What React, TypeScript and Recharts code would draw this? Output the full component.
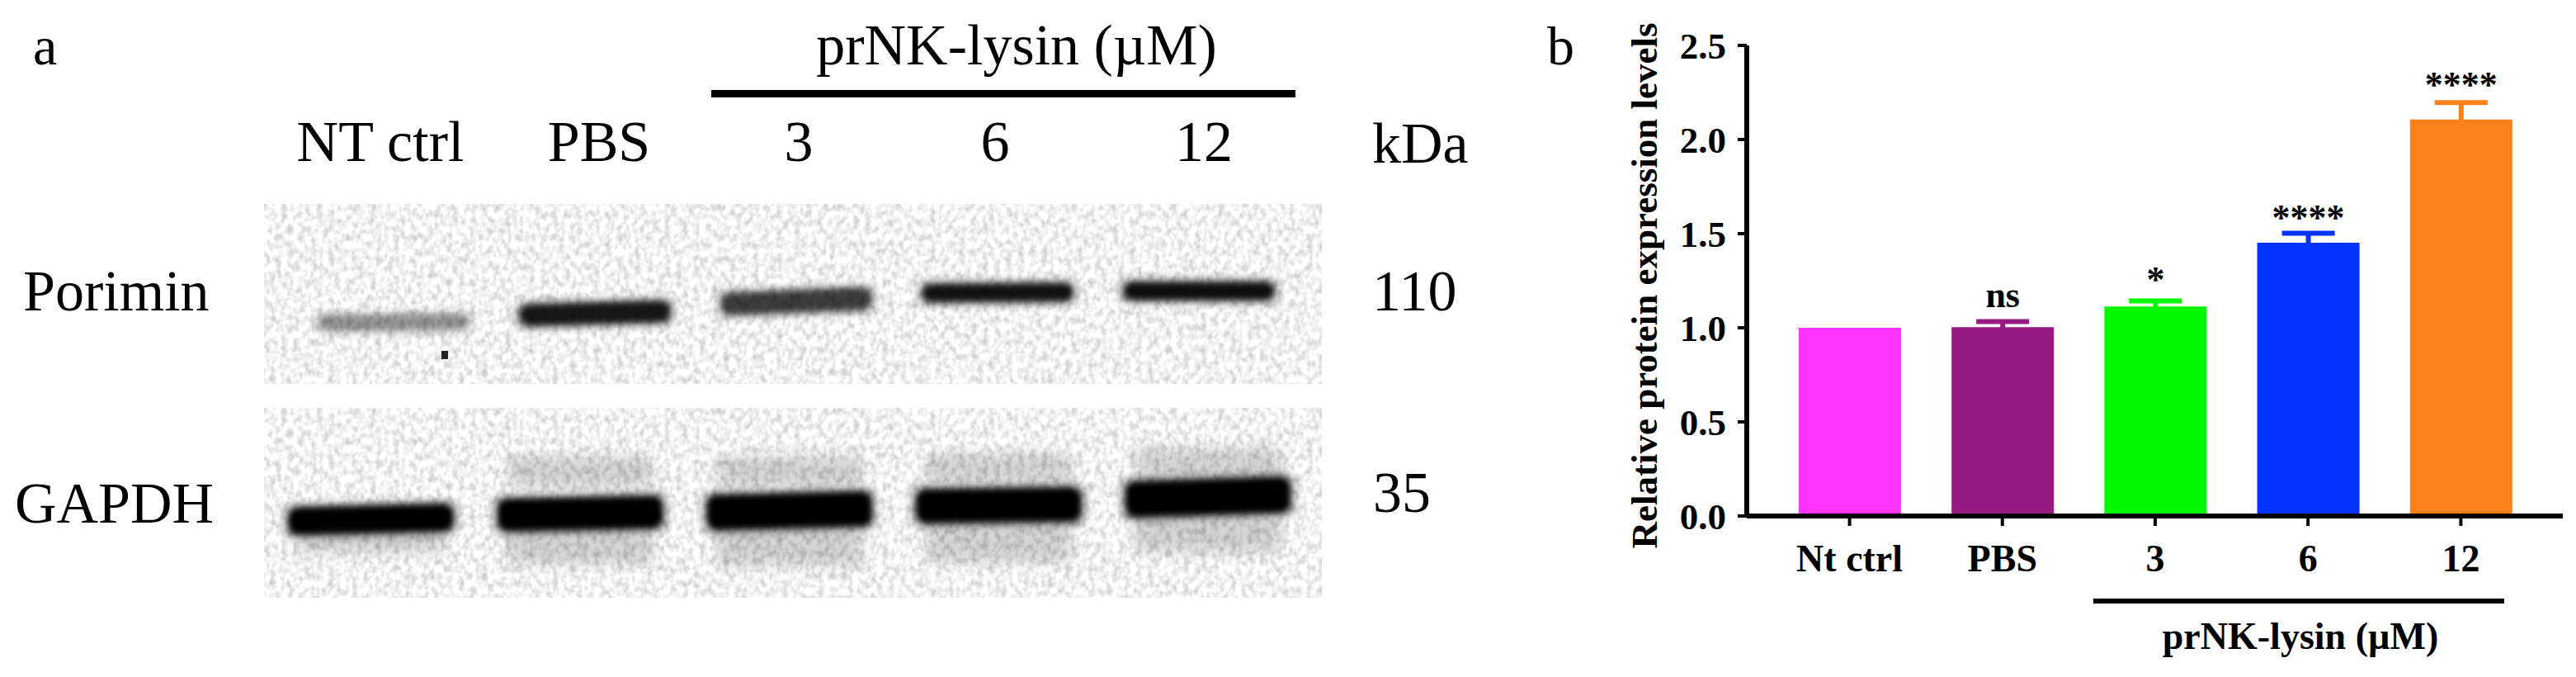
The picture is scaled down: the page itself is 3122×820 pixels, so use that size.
import React from "react";
import {
  Bar,
  BarChart,
  ErrorBar,
  LabelList,
  ReferenceArea,
  ReferenceDot,
  XAxis,
  YAxis,
} from "recharts";

// panel b
const groups = ["Nt ctrl", "PBS", "3", "6", "12"];
const means = [1.0, 1.003, 1.113, 1.452, 2.106];
const sems = [0, 0.03, 0.03, 0.05, 0.09];
const marks = ["", "ns", "*", "****", "****"];
const barColors = ["#ff33ff", "#951a81", "#00f900", "#0433ff", "#ff8119"];
const yTicks = [0, 0.5, 1, 1.5, 2, 2.5];

// panel a: band edges are rows down each blot, tilt in degrees, darkness 0-1
const lanes = ["NT ctrl", "PBS", "3", "6", "12"];
const poriminTop = [135, 121, 106, 98, 96];
const poriminBottom = [152, 144, 130, 117, 115];
const poriminDark = [0.32, 0.85, 0.66, 0.88, 0.9];
const poriminTilt = [-0.4, -1.6, -2.2, -0.4, 0];
const gapdhTop = [120, 110, 105, 99, 88];
const gapdhBottom = [150, 146, 144, 137, 128];
const gapdhTilt = [-1.4, -1.2, -1.4, -0.7, -1.8];
const smearHigh = [null, [58, 96], [58, 96], [55, 92], [48, 86]];
const smearLow = [[148, 176], [144, 190], [142, 192], [135, 188], [126, 176]];

const rows = groups.map((name, i) => ({
  name,
  [`v${i}`]: means[i],
  [`e${i}`]: sems[i] || undefined,
  [`s${i}`]: marks[i] || undefined,
}));

const poriminRows = lanes.map((name, i) => ({
  name,
  band: [poriminTop[i], poriminBottom[i]],
  dark: poriminDark[i],
  tilt: poriminTilt[i],
}));

const gapdhRows = lanes.map((name, i) => ({
  name,
  band: [gapdhTop[i], gapdhBottom[i]],
  high: smearHigh[i],
  low: smearLow[i],
  dark: 1,
  tilt: gapdhTilt[i],
}));

const SERIF = "'Liberation Serif', serif";
const BLOT_WIDTH = 1282;
const GAPDH_BAR = 205;
const markOffsets = [0, 24, 18, 16, 28];

function BlotBand(props: any) {
  const { x, width, payload } = props;
  const y = Math.min(props.y, props.y + props.height);
  const height = Math.abs(props.height);
  const cx = x + width / 2;
  const cy = y + height / 2;
  return (
    <g transform={`rotate(${payload.tilt} ${cx} ${cy})`}>
      <rect
        x={x - 2}
        y={y - 6}
        width={width + 4}
        height={height + 12}
        rx={10}
        fill="#000"
        opacity={payload.dark * 0.42}
        filter="url(#bandHalo)"
      />
      <rect
        x={x + 3}
        y={y - 1}
        width={width - 6}
        height={height + 2}
        rx={12}
        fill="#000"
        opacity={payload.dark}
        filter="url(#bandCore)"
      />
    </g>
  );
}

function Smear(props: any) {
  const { x, width } = props;
  const y = Math.min(props.y, props.y + props.height);
  const height = Math.abs(props.height);
  if (!height) return null;
  return (
    <rect
      x={x + 14}
      y={y}
      width={width - 28}
      height={height}
      fill="#000"
      opacity={0.16}
      filter="url(#smear)"
    />
  );
}

function Speckle(props: any) {
  const y = Math.min(props.y, props.y + props.height);
  return <rect x={0} y={y} width={BLOT_WIDTH} height={Math.abs(props.height)} filter="url(#speckle)" />;
}

function BlotDefs() {
  return (
    <defs>
      <filter id="speckle" x="0" y="0" width="100%" height="100%">
        <feTurbulence type="fractalNoise" baseFrequency="0.14 0.11" numOctaves={2} seed={4} />
        <feColorMatrix values="0 0 0 0 0  0 0 0 0 0  0 0 0 0 0  0.42 0 0 0 -0.16" />
      </filter>
      <filter id="bandHalo" x="-10%" y="-80%" width="120%" height="260%">
        <feGaussianBlur stdDeviation="6 5" />
      </filter>
      <filter id="bandCore" x="-10%" y="-60%" width="120%" height="220%">
        <feGaussianBlur stdDeviation="3.5" />
      </filter>
      <filter id="smear" x="-10%" y="-40%" width="120%" height="180%">
        <feGaussianBlur stdDeviation="8" />
      </filter>
    </defs>
  );
}

const box = (left: number, top: number): React.CSSProperties => ({ position: "absolute", left, top });

export default function App() {
  return (
    <div style={{ position: "absolute", left: 0, top: 0, width: 3122, height: 820, overflow: "hidden", background: "#fff" }}>
      <div style={box(320, 247)}>
        <BarChart
          width={BLOT_WIDTH}
          height={218}
          data={poriminRows}
          margin={{ top: 0, right: 0, bottom: 0, left: 0 }}
          barSize={188}
        >
          <BlotDefs />
          <XAxis dataKey="name" hide padding={{ left: 35, right: 27 }} />
          <YAxis hide reversed domain={[0, 218]} />
          <ReferenceArea y1={0} y2={218} shape={Speckle} />
          <Bar dataKey="band" isAnimationActive={false} shape={BlotBand} />
          <ReferenceDot
            x="NT ctrl"
            y={183}
            shape={(p: any) => <rect x={p.cx + 58} y={p.cy - 5} width={8} height={10} fill="#222" />}
          />
        </BarChart>
      </div>

      <div style={box(320, 494)}>
        <BarChart
          width={BLOT_WIDTH}
          height={230}
          data={gapdhRows}
          margin={{ top: 0, right: 0, bottom: 0, left: 0 }}
          barSize={GAPDH_BAR}
          barGap={-GAPDH_BAR}
        >
          <BlotDefs />
          <XAxis dataKey="name" hide padding={{ left: 3, right: 11 }} />
          <YAxis hide reversed domain={[0, 230]} />
          <ReferenceArea y1={0} y2={230} shape={Speckle} />
          <Bar dataKey="high" isAnimationActive={false} shape={Smear} />
          <Bar dataKey="low" isAnimationActive={false} shape={Smear} />
          <Bar dataKey="band" isAnimationActive={false} shape={BlotBand} />
        </BarChart>
      </div>

      <div style={box(1850, 0)}>
        <BarChart
          width={1272}
          height={820}
          data={rows}
          margin={{ top: 55, right: 16, bottom: 0, left: 147 }}
          barSize={124}
        >
          <XAxis
            dataKey="name"
            height={195}
            interval={0}
            padding={{ left: 32, right: 31 }}
            axisLine={{ stroke: "#000", strokeWidth: 6 }}
            tickLine={{ stroke: "#000", strokeWidth: 4 }}
            tickSize={12}
            tickMargin={22}
            tick={{ fill: "#000", fontFamily: SERIF, fontWeight: 700, fontSize: 46 }}
          />
          <YAxis
            width={120}
            domain={[0, 2.5]}
            ticks={yTicks}
            tickFormatter={(v: number) => v.toFixed(1)}
            axisLine={{ stroke: "#000", strokeWidth: 6 }}
            tickLine={{ stroke: "#000", strokeWidth: 4 }}
            tickSize={11}
            tickMargin={14}
            tick={{ fill: "#000", fontFamily: SERIF, fontWeight: 700, fontSize: 45 }}
          />
          {groups.map((g, i) => (
            <Bar key={g} dataKey={`v${i}`} stackId="all" fill={barColors[i]} isAnimationActive={false}>
              <ErrorBar dataKey={`e${i}`} direction="y" width={32} stroke={barColors[i]} strokeWidth={6} />
              <LabelList
                dataKey={`s${i}`}
                position="top"
                offset={markOffsets[i]}
                fill="#000"
                fontFamily={SERIF}
                fontWeight={700}
                fontSize={44}
              />
            </Bar>
          ))}
        </BarChart>
      </div>

      <svg width={3122} height={820} style={{ position: "absolute", left: 0, top: 0, pointerEvents: "none" }}>
        <g fontFamily={SERIF} fontSize={70} fill="#000">
          <text x={40} y={78} fontSize={66}>a</text>
          <text x={1232} y={78} textAnchor="middle">prNK-lysin (µM)</text>
          <rect x={862} y={109} width={708} height={9} fill="#000" />
          <text x={461} y={195} textAnchor="middle">{lanes[0]}</text>
          <text x={726} y={195} textAnchor="middle">{lanes[1]}</text>
          <text x={968} y={195} textAnchor="middle">{lanes[2]}</text>
          <text x={1206} y={195} textAnchor="middle">{lanes[3]}</text>
          <text x={1459} y={195} textAnchor="middle">{lanes[4]}</text>
          <text x={1663} y={197}>kDa</text>
          <text x={28} y={376}>Porimin</text>
          <text x={1663} y={376}>110</text>
          <text x={18} y={633}>GAPDH</text>
          <text x={1664} y={620}>35</text>
          <text x={1875} y={78} fontSize={66}>b</text>
        </g>
        <g fontFamily={SERIF} fontWeight={700} fill="#000">
          <text transform="translate(2008 346) rotate(-90)" textAnchor="middle" fontSize={45}>
            Relative protein expression levels
          </text>
          <rect x={2537} y={725} width={498} height={6} fill="#000" />
          <text x={2788} y={786} textAnchor="middle" fontSize={46}>prNK-lysin (µM)</text>
        </g>
      </svg>
    </div>
  );
}
